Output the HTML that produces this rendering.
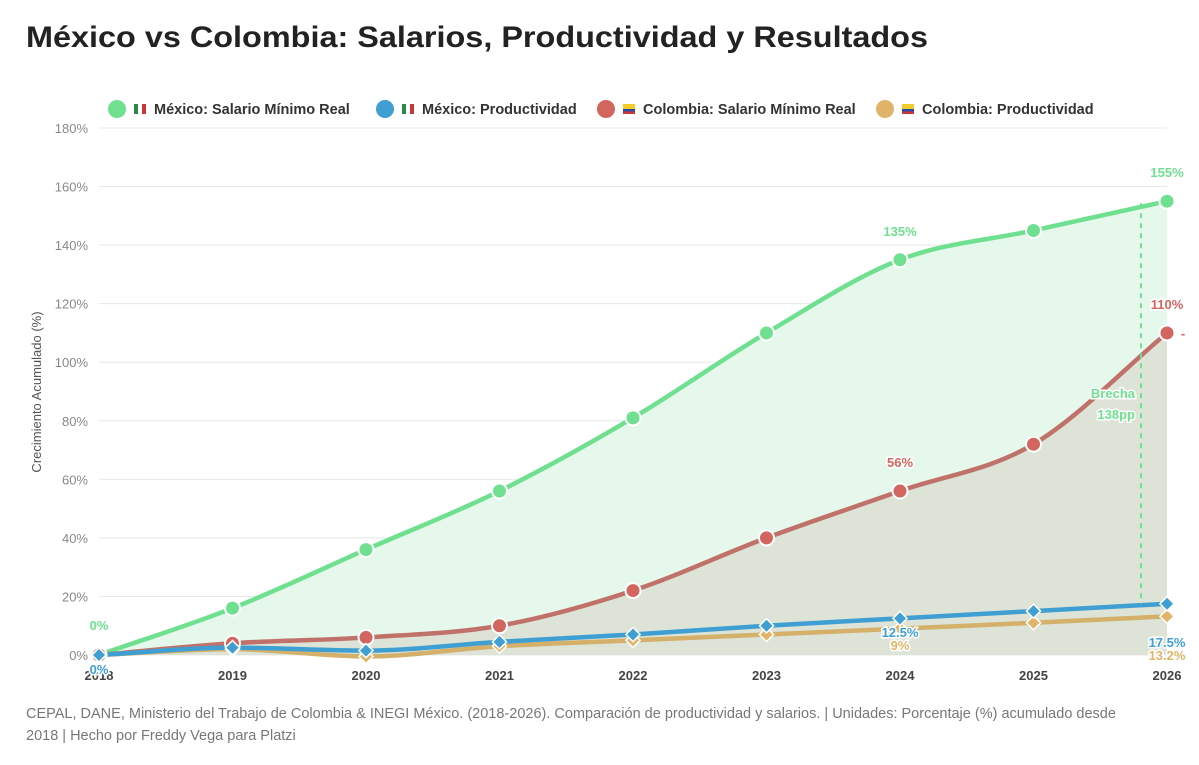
<!DOCTYPE html>
<html><head><meta charset="utf-8"><style>
body{margin:0;background:#fff;font-family:"Liberation Sans","DejaVu Sans",sans-serif;}
svg text{font-family:"Liberation Sans","DejaVu Sans",sans-serif;}
</style></head><body>
<svg width="1199" height="760">
<text x="26" y="47" font-size="30" font-weight="bold" fill="#222" textLength="902" lengthAdjust="spacingAndGlyphs">México vs Colombia: Salarios, Productividad y Resultados</text>
<g id="legend"></g>
<g id="grid"></g><g id="areas"></g><g id="lines"></g><g id="marks"></g><g id="labels"></g>
<text transform="translate(41,392) rotate(-90)" text-anchor="middle" font-size="13" fill="#555">Crecimiento Acumulado (%)</text>
<text x="26" y="718" font-size="14.5" fill="#777">CEPAL, DANE, Ministerio del Trabajo de Colombia &amp; INEGI México. (2018-2026). Comparación de productividad y salarios. | Unidades: Porcentaje (%) acumulado desde</text>
<text x="26" y="740" font-size="14.5" fill="#777">2018 | Hecho por Freddy Vega para Platzi</text>
</svg>
<script>
const years=[2018,2019,2020,2021,2022,2023,2024,2025,2026];
const mexSal=[0,16,36,56,81,110,135,145,155];
const mexProd=[0,2.5,1.5,4.5,7,10,12.5,15,17.5];
const colSal=[0,4,6,10,22,40,56,72,110];
const colProd=[0,2,-0.5,3,5,7,9,11,13.2];
const yTicks=[0,20,40,60,80,100,120,140,160,180];
const NS="http://www.w3.org/2000/svg";
const X=i=>99+i*133.5, Y=v=>655-v*527/180;
function el(t,a,p){const e=document.createElementNS(NS,t);for(const k in a)e.setAttribute(k,a[k]);document.getElementById(p).appendChild(e);return e;}
function path(vals){const p=vals.map((v,i)=>[X(i),Y(v)]);const n=p.length;const d=[],m=[];
for(let i=0;i<n-1;i++)d.push((p[i+1][1]-p[i][1])/(p[i+1][0]-p[i][0]));
m[0]=d[0];m[n-1]=d[n-2];for(let i=1;i<n-1;i++)m[i]=d[i-1]*d[i]<=0?0:(d[i-1]+d[i])/2;
let s=`M${p[0][0]},${p[0][1]}`;for(let i=0;i<n-1;i++){const h=(p[i+1][0]-p[i][0])/3;s+=` C${p[i][0]+h},${p[i][1]+m[i]*h} ${p[i+1][0]-h},${p[i+1][1]-m[i+1]*h} ${p[i+1][0]},${p[i+1][1]}`;}return s;}
yTicks.forEach(t=>{const l=el('line',{x1:99,x2:1167,y1:Y(t),y2:Y(t),stroke:'#e8e8e8'},'grid');

const tx=el('text',{x:88,y:Y(t)+5,'text-anchor':'end','font-size':13,fill:'#888'},'grid');tx.textContent=t+'%';
});
years.forEach((y,i)=>{const tx=el('text',{x:X(i),y:680,'text-anchor':'middle','font-size':13,'font-weight':'bold',fill:'#444'},'grid');tx.textContent=y;
});
const base=` L${X(8)},${Y(0)} L${X(0)},${Y(0)} Z`;
let a=el('path',{d:path(mexSal)+base,fill:'#e6f8eb'},'areas');
a=el('path',{d:path(colSal)+base,fill:'#dde3d6'},'areas');
const series=[[mexSal,'#6ee08f','circle','mexico-salary'],[colSal,'#c0726a','circle','colombia-salary'],[colProd,'#d4b06a','diamond','colombia-productivity'],[mexProd,'#3f9fd2','diamond','mexico-productivity']];
const mk={ 'mexico-salary':'#6ee08f','colombia-salary':'#d2665e','colombia-productivity':'#e0b56a','mexico-productivity':'#3f9fd2'};
series.forEach(([v,c,s,n])=>{const l=el('path',{d:path(v),fill:'none',stroke:c,'stroke-width':4.5},'lines');

v.forEach((val,i)=>{let m;if(s=='circle')m=el('circle',{cx:X(i),cy:Y(val),r:7.5,fill:mk[n],stroke:'#fff','stroke-width':2},'marks');
else m=el('rect',{x:X(i)-5,y:Y(val)-5,width:10,height:10,transform:`rotate(45 ${X(i)} ${Y(val)})`,fill:mk[n],stroke:'#fff','stroke-width':1.5},'marks');
});});
const dl=el('line',{x1:1141,x2:1141,y1:Y(mexSal[8])+2,y2:Y(mexProd[8]),stroke:'#6ee08f','stroke-width':2,'stroke-dasharray':'5,5'},'labels');

function lab(x,y,t,c,n,anc){const e=el('text',{x:x,y:y,'text-anchor':anc||'middle','font-size':13,'font-weight':'bold',fill:c,stroke:'#fff','stroke-width':3,'paint-order':'stroke'},'labels');e.textContent=t;}
lab(X(0),630,mexSal[0]+'%','#6ee08f','label-mex-sal-start');
lab(X(0),674,mexProd[0]+'%','#3f9fd2','label-mex-prod-start');
lab(X(6),236,mexSal[6]+'%','#6ee08f','label-mex-sal-2024');
lab(X(8),177,mexSal[8]+'%','#6ee08f','label-mex-sal-2026');
lab(X(6),467,colSal[6]+'%','#d2665e','label-col-sal-2024');
lab(X(8),309,colSal[8]+'%','#d2665e','label-col-sal-2026');
lab(1183,338,'-','#d2665e','dash-mark');
lab(X(6),650,colProd[6]+'%','#e0b56a','label-col-prod-2024');
lab(X(6),637,mexProd[6]+'%','#3f9fd2','label-mex-prod-2024');
lab(X(8),647,mexProd[8]+'%','#3f9fd2','label-mex-prod-2026');
lab(X(8),660,colProd[8]+'%','#e0b56a','label-col-prod-2026');
lab(1135,398,'Brecha','#6ee08f','gap-label','end');
lab(1135,419,'138pp','#6ee08f','gap-value','end');
const leg=[['México: Salario Mínimo Real','#6ee08f',117,'mx'],['México: Productividad','#3f9fd2',385,'mx'],['Colombia: Salario Mínimo Real','#d2665e',606,'co'],['Colombia: Productividad','#e0b56a',885,'co']];
leg.forEach(([t,c,x,f])=>{const g=el('g',{},'legend');
const ci=document.createElementNS(NS,'circle');ci.setAttribute('cx',x);ci.setAttribute('cy',109);ci.setAttribute('r',9);ci.setAttribute('fill',c);g.appendChild(ci);
const cols=f=='mx'?['#2a8a4a','#fff','#c8383a']:['#f2cc2a','#2a4aa0','#c8383a'];
cols.forEach((cc,k)=>{const r=document.createElementNS(NS,'rect');const fx=x+17;
if(f=='mx'){r.setAttribute('x',fx+k*4);r.setAttribute('y',104);r.setAttribute('width',4);r.setAttribute('height',10);}
else{r.setAttribute('x',fx);r.setAttribute('y',104+[0,5,7.5][k]);r.setAttribute('width',12);r.setAttribute('height',[5,2.5,2.5][k]);}
r.setAttribute('fill',cc);g.appendChild(r);});
const tx=document.createElementNS(NS,'text');tx.setAttribute('x',x+37);tx.setAttribute('y',114);tx.setAttribute('font-size',14.5);tx.setAttribute('font-weight','bold');tx.setAttribute('fill','#333');tx.textContent=t;g.appendChild(tx);});
</script>
</body></html>
